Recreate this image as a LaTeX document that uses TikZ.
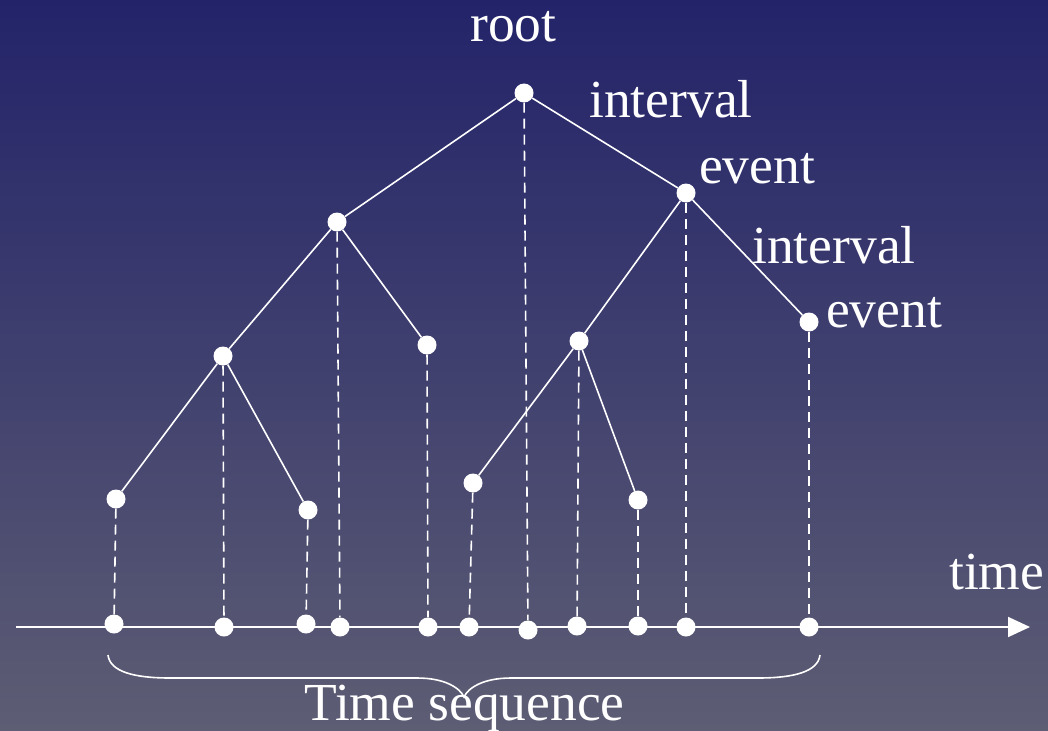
\documentclass[tikz,border=0pt]{standalone}
\usepackage{fontspec}
\setmainfont{Liberation Serif}
\usetikzlibrary{arrows.meta}
\definecolor{bgtop}{RGB}{35,35,106}
\definecolor{bgbot}{RGB}{93,93,116}
\tikzset{
  dot/.style={circle,fill=white,draw=none,minimum size=19pt,inner sep=0pt},
  edge/.style={draw=white,line width=1.6pt},
  drop/.style={draw=white,line width=1.6pt,dash pattern=on 10pt off 6pt},
  lbl/.style={text=white,anchor=base west,inner sep=0pt,font=\fontsize{53.5}{60}\selectfont},
}
\begin{document}
\begin{tikzpicture}[x=1pt,y=-1pt]
\shade[top color=bgtop,bottom color=bgbot] (0,0) rectangle (1048,730);
\useasboundingbox (0,0) rectangle (1048,730);
% axis
\coordinate (axs) at (16,627);
\coordinate (axe) at (1030,627);
\draw[white,line width=1.8pt,-{Triangle[length=22pt,width=20pt]}] (axs) -- (axe);
% tree nodes
\node[dot] (r)   at (524,93) {};
\node[dot] (a)   at (337,222) {};
\node[dot] (b)   at (686,193) {};
\node[dot] (a1)  at (223,356) {};
\node[dot] (a2)  at (427,345) {};
\node[dot] (b1)  at (579,341) {};
\node[dot] (b2)  at (809,322) {};
\node[dot] (a11) at (116,499) {};
\node[dot] (a12) at (308,510) {};
\node[dot] (b11) at (473,483) {};
\node[dot] (b12) at (638,500) {};
% axis dots
\node[dot] (t1)  at (114,624) {};
\node[dot] (t2)  at (224,627) {};
\node[dot] (t3)  at (306,624) {};
\node[dot] (t4)  at (340,627) {};
\node[dot] (t5)  at (428,627) {};
\node[dot] (t6)  at (469,627) {};
\node[dot] (t7)  at (528,630) {};
\node[dot] (t8)  at (577,626) {};
\node[dot] (t9)  at (638,626) {};
\node[dot] (t10) at (686,627) {};
\node[dot] (t11) at (809,627) {};
% tree edges
\draw[edge] (r) -- (a);
\draw[edge] (r) -- (b);
\draw[edge] (a) -- (a1);
\draw[edge] (a) -- (a2);
\draw[edge] (a1) -- (a11);
\draw[edge] (a1) -- (a12);
\draw[edge] (b) -- (b1);
\draw[edge] (b) -- (b2);
\draw[edge] (b1) -- (b11);
\draw[edge] (b1) -- (b12);
% drops
\draw[drop] (a11) -- (t1);
\draw[drop] (a1) -- (t2);
\draw[drop] (a12) -- (t3);
\draw[drop] (a) -- (t4);
\draw[drop] (a2) -- (t5);
\draw[drop] (b11) -- (t6);
\draw[drop] (r) -- (t7);
\draw[drop] (b1) -- (t8);
\draw[drop] (b12) -- (t9);
\draw[drop] (b) -- (t10);
\draw[drop] (b2) -- (t11);
% labels
\node[lbl] (lroot) at (470,42) {root};
\node[lbl] (lint1) at (589,118) {interval};
\node[lbl] (lev1)  at (699,183) {event};
\node[lbl] (lint2) at (752,263) {interval};
\node[lbl] (lev2)  at (826,327) {event};
\node[lbl] (ltime) at (949,589) {time};
\node[lbl] (lseq)  at (304,720) {Time sequence};
% brace
\draw[white,line width=1.6pt] (108,655) .. controls (110,672) and (135,678) .. (170,678)
  -- (417,678) .. controls (445,678) and (460,688) .. (464,697)
  .. controls (468,688) and (483,678) .. (511,678)
  -- (758,678) .. controls (793,678) and (818,672) .. (820,655);
\end{tikzpicture}
\end{document}
